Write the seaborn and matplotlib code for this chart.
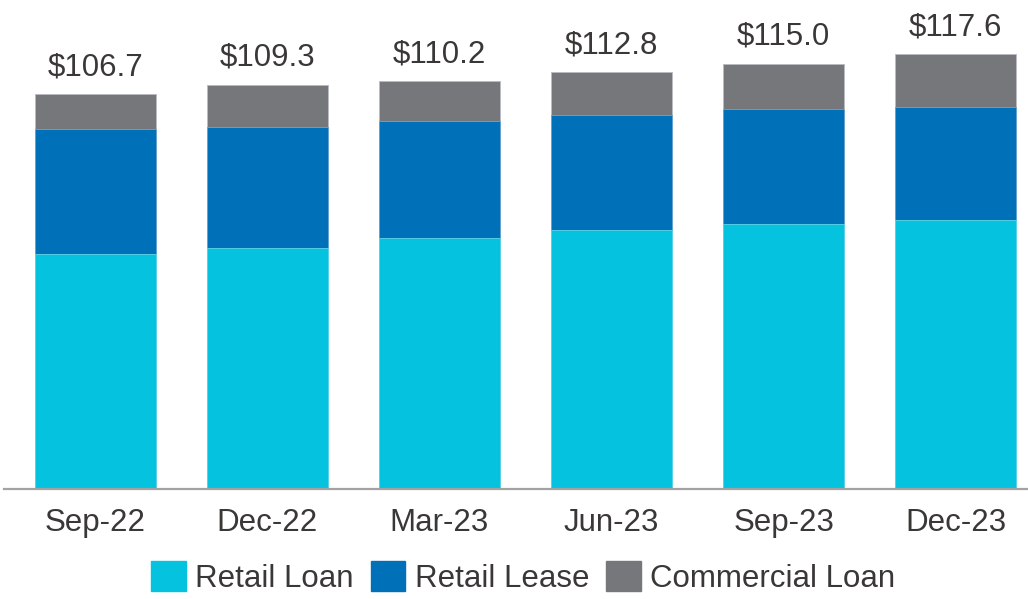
import numpy as np
import pandas as pd
import seaborn as sns
import matplotlib.pyplot as plt
from matplotlib.patches import Patch

# datos (miles de millones)
quarters = ['Sep-22', 'Dec-22', 'Mar-23', 'Jun-23', 'Sep-23', 'Dec-23']
retail_loan = [63.5, 65.2, 67.9, 70.0, 71.7, 72.7]
retail_lease = [33.9, 32.8, 31.7, 31.2, 31.1, 30.7]
commercial_loan = [9.3, 11.3, 10.6, 11.6, 12.2, 14.2]
totals = ['$106.7', '$109.3', '$110.2', '$112.8', '$115.0', '$117.6']

sns.set_style('white')
plt.rcParams['font.family'] = ['Liberation Sans', 'DejaVu Sans']

c_loan = '#05C3DE'
c_lease = '#0070B8'
c_comm = '#76777B'
c_text = '#3A3836'

df = pd.DataFrame({'quarter': quarters, 'loan': retail_loan,
                   'lease': retail_lease, 'comm': commercial_loan})
df['lease_top'] = df['loan'] + df['lease']
df['total'] = df['lease_top'] + df['comm']

fig = plt.figure(figsize=(10.28, 5.99), dpi=100)
ax = fig.add_axes([0.004, 0.1836, 0.996, 0.8164])

# barras apiladas: de atras hacia adelante
sns.barplot(data=df, x='quarter', y='total', color=c_comm, width=0.7,
            saturation=1, ax=ax, edgecolor='#b8bcc4', linewidth=0.6)
sns.barplot(data=df, x='quarter', y='lease_top', color=c_lease, width=0.7,
            saturation=1, ax=ax, edgecolor='#6aa6d6', linewidth=0.6)
sns.barplot(data=df, x='quarter', y='loan', color=c_loan, width=0.7,
            saturation=1, ax=ax, edgecolor='#5fd6e8', linewidth=0.6)

for i, (val, lab) in enumerate(zip(df['total'], totals)):
    ax.annotate(lab, (i, val), xytext=(0, 13.5), textcoords='offset points',
                ha='center', va='baseline', fontsize=22.5, color=c_text)

ax.set_xlim(-0.53, 5.42)
ax.set_ylim(0, 132.2)
ax.set_xlabel('')
ax.set_ylabel('')
ax.set_yticks([])
sns.despine(ax=ax, left=True)
ax.spines['bottom'].set_color('#a3a3a3')
ax.spines['bottom'].set_linewidth(1.6)
ax.tick_params(axis='x', length=0, pad=14, labelsize=22.5, labelcolor=c_text)

handles = [Patch(color=c_loan, label='Retail Loan'),
           Patch(color=c_lease, label='Retail Lease'),
           Patch(color=c_comm, label='Commercial Loan')]
fig.legend(handles=handles, loc='lower center', bbox_to_anchor=(0.509, -0.012),
           ncol=3, frameon=False, fontsize=22.5, labelcolor=c_text,
           handlelength=1.1, handleheight=1.1, handletextpad=0.3,
           columnspacing=0.55, borderaxespad=0)

fig.savefig('out.png', dpi=100)
